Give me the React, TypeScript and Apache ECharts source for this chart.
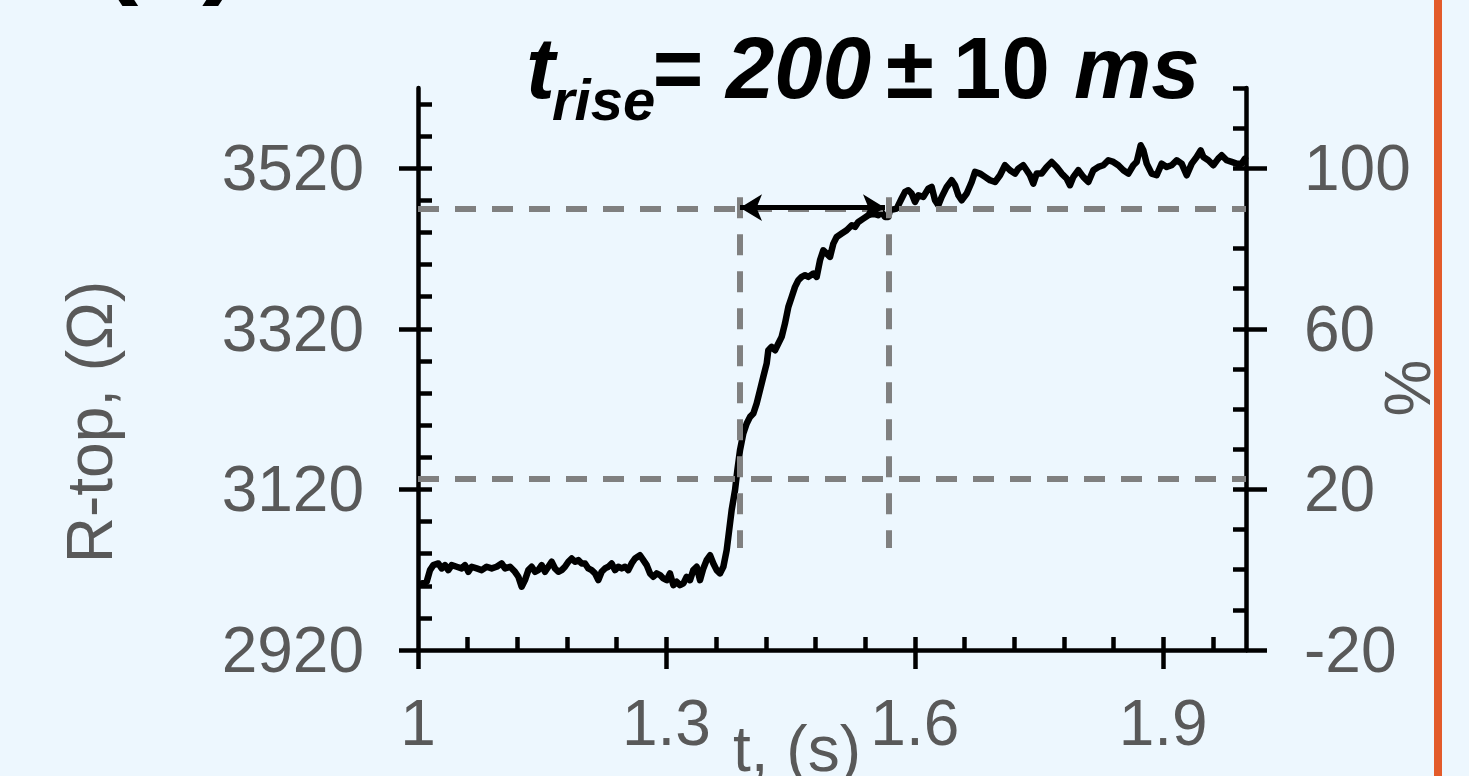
import React, { useEffect, useRef } from "react";
import * as echarts from "echarts";

// ---- data ----
const timeS = [
  1.005, 1.0105, 1.0145, 1.0185, 1.0246, 1.0286, 1.0326, 1.0366, 1.0407, 1.0467,
  1.0527, 1.0568, 1.0608, 1.0648, 1.0709, 1.0769, 1.0829, 1.089, 1.095, 1.101,
  1.1051, 1.1111, 1.1171, 1.1212, 1.1252, 1.1292, 1.1333, 1.1373, 1.1413, 1.1453,
  1.1494, 1.1534, 1.1574, 1.1614, 1.1655, 1.1695, 1.1735, 1.1775, 1.1816, 1.1856,
  1.1896, 1.1936, 1.1977, 1.2017, 1.2057, 1.2097, 1.2138, 1.2178, 1.2218, 1.2258,
  1.2299, 1.2339, 1.2379, 1.2419, 1.246, 1.25, 1.254, 1.258, 1.2621, 1.2681,
  1.2721, 1.2762, 1.2802, 1.2842, 1.2882, 1.2923, 1.2963, 1.3003, 1.3043, 1.3084,
  1.3124, 1.3164, 1.3205, 1.3245, 1.3285, 1.3325, 1.3366, 1.3406, 1.3446, 1.3486,
  1.3527, 1.3567, 1.3607, 1.3647, 1.3688, 1.3728, 1.3748, 1.3788, 1.3829, 1.3857,
  1.3889, 1.3929, 1.397, 1.401, 1.405, 1.409, 1.413, 1.417, 1.4211, 1.4231,
  1.4271, 1.4312, 1.4352, 1.4392, 1.4432, 1.4473, 1.4513, 1.4553, 1.4593, 1.4634,
  1.4674, 1.4714, 1.4775, 1.4815, 1.4855, 1.4895, 1.4936, 1.4976, 1.5016, 1.5056,
  1.5117, 1.5177, 1.5238, 1.5278, 1.5318, 1.5378, 1.5439, 1.55, 1.5559, 1.56,
  1.564, 1.568, 1.57, 1.5781, 1.5841, 1.5882, 1.5922, 1.5962, 1.6002, 1.6043,
  1.6103, 1.6163, 1.6204, 1.6244, 1.6284, 1.6325, 1.6385, 1.6446, 1.6486, 1.6526,
  1.6566, 1.6627, 1.6687, 1.6727, 1.6787, 1.6848, 1.6908, 1.6969, 1.7029, 1.7089,
  1.715, 1.721, 1.725, 1.731, 1.7351, 1.7391, 1.7431, 1.7472, 1.7532, 1.7593,
  1.7653, 1.7713, 1.7774, 1.7834, 1.7874, 1.7915, 1.7975, 1.8035, 1.8096, 1.8156,
  1.8217, 1.8277, 1.8337, 1.8398, 1.8458, 1.8519, 1.8579, 1.8639, 1.868, 1.8728,
  1.876, 1.8801, 1.8861, 1.8921, 1.8982, 1.9042, 1.9102, 1.9163, 1.9223, 1.9284,
  1.9344, 1.9404, 1.9452, 1.9485, 1.9545, 1.9605, 1.9665, 1.9706, 1.9766, 1.9827,
  1.9887, 1.9948, 1.9988,
];

const resistance = [
  3003, 3005, 3019.5, 3025.7, 3027.8, 3021.6, 3025.7, 3019.5, 3025.7, 3023.7,
  3021.6, 3025.7, 3017.4, 3023.7, 3021.6, 3019.5, 3023.7, 3021.6, 3023.7, 3027.8,
  3021.6, 3023.7, 3017.4, 3011.2, 2998.8, 3007, 3019.5, 3023.7, 3017.4, 3019.5,
  3025.7, 3017.4, 3023.7, 3029.9, 3021.6, 3017.4, 3019.5, 3023.7, 3029.9, 3034,
  3029.9, 3032, 3027.8, 3027.8, 3021.6, 3019.5, 3015.4, 3007, 3017.4, 3021.6,
  3023.7, 3027.8, 3019.5, 3023.7, 3021.6, 3023.7, 3019.5, 3027.8, 3034, 3038,
  3032, 3025.7, 3015.4, 3011.2, 3015.4, 3013.3, 3009.1, 3007, 3015.4, 3000.8,
  3005, 3000.8, 3003, 3011.2, 3007, 3019.5, 3023.7, 3007, 3021.6, 3032,
  3038, 3027.8, 3019.5, 3015.4, 3023.7, 3044.4, 3061, 3094.2, 3119.1, 3144,
  3168.9, 3189.7, 3202.1, 3210.4, 3214.6, 3227, 3243.6, 3260.2, 3276.8, 3293.4,
  3297.5, 3293.4, 3301.7, 3310, 3326.6, 3347.4, 3359.8, 3372.3, 3380.5, 3384.7,
  3386.8, 3384.7, 3388.9, 3384.7, 3405.4, 3417.9, 3413.7, 3409.6, 3426.2, 3434.5,
  3438.7, 3442.8, 3449, 3447, 3453.2, 3457.3, 3461.5, 3463.6, 3461.5, 3465.6,
  3459.4, 3459.4, 3467.8, 3469.8, 3482.3, 3490.6, 3492.7, 3488.5, 3478.1, 3486.4,
  3484.4, 3494.7, 3496.8, 3480.2, 3474, 3484.4, 3496.8, 3505.1, 3498.9, 3486.4,
  3480.2, 3488.5, 3503, 3515.5, 3513.4, 3509.3, 3505.1, 3503, 3511.3, 3523.8,
  3517.6, 3513.4, 3519.6, 3523.8, 3517.6, 3511.3, 3500.9, 3513.4, 3513.4, 3521.7,
  3527.9, 3521.7, 3513.4, 3507.2, 3498.9, 3509.3, 3517.6, 3509.3, 3503, 3517.6,
  3521.7, 3523.8, 3530, 3527.9, 3523.8, 3517.6, 3513.4, 3523.8, 3527.9, 3548.7,
  3542.4, 3525.8, 3513.4, 3511.3, 3525.8, 3521.7, 3523.8, 3530, 3525.8, 3511.3,
  3525.8, 3534.1, 3542.4, 3534.1, 3530, 3523.8, 3532.1, 3536.2, 3530, 3527.9,
  3525.8, 3525.8, 3532.1,
];

// axis ticks
const xMajorTicks = [1, 1.3, 1.6, 1.9];
const xMinorTicks = [1.06, 1.12, 1.18, 1.24, 1.3, 1.36, 1.42, 1.48, 1.54, 1.6, 1.66, 1.72, 1.78, 1.84, 1.9, 1.96];
const leftMajorTicks = [2920, 3120, 3320, 3520];
const leftMinorTicks = [2960, 3000, 3040, 3080, 3120, 3160, 3200, 3240, 3280, 3320, 3360, 3400, 3440, 3480, 3520, 3560, 3600];
const rightMajorTicks = [-20, 20, 60, 100];
const rightMinorTicks = [-10, 0, 10, 20, 30, 40, 50, 60, 70, 80, 90, 100, 110, 120];

// guide lines (rise-time construction)
const levelR = [3470, 3133]; // horizontal dashed levels (Ω)
const edgeT = [1.3889, 1.5688]; // vertical dashed lines (s)
const edgeSpanR = [3047, 3484]; // vertical extent of the vertical dashed lines
const levelSpanT = [1.0, 2.0];
const arrowT = [1.3889, 1.564];
const arrowR = 3471;

const FONT = "'Liberation Sans', Arial, Helvetica, sans-serif";
const LABEL_COLOR = "#595959";

export default function App() {
  const ref = useRef<HTMLDivElement>(null);

  useEffect(() => {
    if (!ref.current) return;
    const chart = echarts.init(ref.current, undefined, { renderer: "svg" });

    const axisLineStyle = { color: "#000", width: 4.5 };
    const labelStyle = { fontSize: 64, color: LABEL_COLOR, fontFamily: FONT };
    const plain = (v: number) => String(v);

    const dashStyle = {
      color: "#808080",
      width: 6,
      type: [21, 16] as any,
      opacity: 1,
    };

    const markData: any[] = [];
    levelR.forEach((r) => {
      markData.push([
        { coord: [levelSpanT[0], r], lineStyle: dashStyle },
        { coord: [levelSpanT[1], r] },
      ]);
    });
    edgeT.forEach((t) => {
      markData.push([
        { coord: [t, edgeSpanR[1]], lineStyle: dashStyle },
        { coord: [t, edgeSpanR[0]] },
      ]);
    });
    markData.push([
      {
        coord: [arrowT[0], arrowR],
        symbol: "arrow",
        symbolSize: [20, 22],
        lineStyle: { color: "#000", width: 5, type: "solid" },
      },
      { coord: [arrowT[1], arrowR], symbol: "arrow", symbolSize: [20, 22] },
    ]);

    const titleText = (text: string, x: number, y: number, font: string) => ({
      type: "text",
      x,
      y,
      silent: true,
      style: {
        text,
        font,
        fill: "#000",
        align: "left",
        textAlign: "left",
        verticalAlign: "middle",
        textVerticalAlign: "middle",
      },
    });

    const option: any = {
      animation: false,
      backgroundColor: "transparent",
      grid: {
        left: 418,
        right: 223,
        top: 88,
        bottom: 126,
        containLabel: false,
        outerBoundsMode: "none",
      },
      xAxis: [
        {
          type: "value",
          min: 1,
          max: 2,
          position: "bottom",
          name: "t, (s)",
          nameLocation: "middle",
          nameGap: 67,
          nameMoveOverlap: false,
          nameTextStyle: { ...labelStyle, padding: [0, 70, 0, 0] },
          axisLine: { show: true, onZero: false, lineStyle: axisLineStyle },
          axisTick: { show: true, inside: false, length: 19, customValues: xMajorTicks, lineStyle: axisLineStyle },
          axisLabel: { show: true, customValues: xMajorTicks, margin: 41, formatter: plain, ...labelStyle },
          splitLine: { show: false },
        },
        {
          type: "value",
          min: 1,
          max: 2,
          position: "bottom",
          axisLine: { show: false, onZero: false },
          axisTick: { show: true, inside: true, length: 13, customValues: xMinorTicks, lineStyle: axisLineStyle },
          axisLabel: { show: false },
          splitLine: { show: false },
        },
      ],
      yAxis: [
        {
          type: "value",
          min: 2920,
          max: 3620,
          position: "left",
          name: "R-top, (Ω)",
          nameLocation: "middle",
          nameRotate: 90,
          nameGap: 296,
          nameMoveOverlap: false,
          nameTextStyle: { ...labelStyle, padding: [0, 106, 0, 0] },
          axisLine: { show: true, onZero: false, lineStyle: axisLineStyle },
          axisTick: { show: true, inside: false, length: 19, customValues: leftMajorTicks, lineStyle: axisLineStyle },
          axisLabel: { show: true, customValues: leftMajorTicks, margin: 54, formatter: plain, ...labelStyle },
          splitLine: { show: false },
        },
        {
          type: "value",
          min: 2920,
          max: 3620,
          position: "left",
          axisLine: { show: false, onZero: false },
          axisTick: { show: true, inside: true, length: 14, customValues: leftMinorTicks, lineStyle: axisLineStyle },
          axisLabel: { show: false },
          splitLine: { show: false },
        },
        {
          type: "value",
          min: -20,
          max: 120,
          position: "right",
          name: "%",
          nameLocation: "middle",
          nameRotate: 90,
          nameGap: 130,
          nameMoveOverlap: false,
          nameTextStyle: { ...labelStyle, padding: [0, 38, 0, 0] },
          axisLine: { show: true, onZero: false, lineStyle: axisLineStyle },
          axisTick: { show: true, inside: false, length: 21, customValues: rightMajorTicks, lineStyle: axisLineStyle },
          axisLabel: { show: true, customValues: rightMajorTicks, margin: 58, formatter: plain, ...labelStyle },
          splitLine: { show: false },
        },
        {
          type: "value",
          min: -20,
          max: 120,
          position: "right",
          axisLine: { show: false, onZero: false },
          axisTick: { show: true, inside: true, length: 13, customValues: rightMinorTicks, lineStyle: axisLineStyle },
          axisLabel: { show: false },
          splitLine: { show: false },
        },
      ],
      series: [
        {
          type: "line",
          xAxisIndex: 0,
          yAxisIndex: 0,
          data: timeS.map((t, i) => [t, resistance[i]]),
          showSymbol: false,
          symbol: "none",
          clip: false,
          lineStyle: { color: "#000", width: 6.5, cap: "round", join: "round" },
          silent: true,
          z: 3,
          markLine: {
            silent: true,
            symbol: ["none", "none"],
            label: { show: false },
            emphasis: { disabled: true },
            z: 4,
            data: markData,
          },
        },
      ],
      graphic: [
        {
          type: "rect",
          shape: { x: 1434, y: 0, width: 8, height: 776 },
          style: { fill: "#E35B2A" },
          silent: true,
        },
        titleText("(a)", 100, -58, `bold 115px ${FONT}`),
        titleText("t", 526, 67, `italic bold 87px ${FONT}`),
        titleText("rise", 552, 99, `italic bold 58px ${FONT}`),
        titleText("= 200", 651, 67, `italic bold 87px ${FONT}`),
        titleText("±", 886, 67, `bold 87px ${FONT}`),
        titleText("10", 953, 67, `bold 87px ${FONT}`),
        titleText("ms", 1074, 67, `italic bold 87px ${FONT}`),
      ],
    };

    chart.setOption(option);
    return () => chart.dispose();
  }, []);

  return (
    <div
      ref={ref}
      style={{
        position: "fixed",
        left: 0,
        top: 0,
        width: 1469,
        height: 776,
        background: "#EDF7FE",
      }}
    />
  );
}
